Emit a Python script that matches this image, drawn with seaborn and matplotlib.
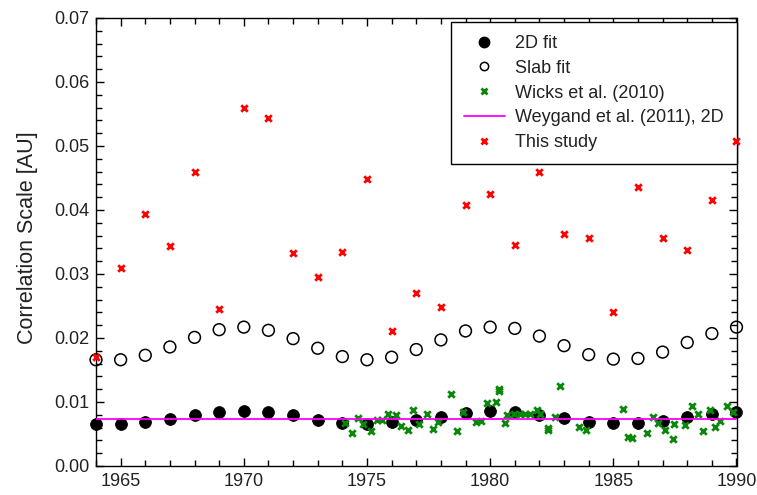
import numpy as np
import pandas as pd
import matplotlib
matplotlib.use("Agg")
import matplotlib.pyplot as plt
from matplotlib.lines import Line2D
from matplotlib.ticker import MultipleLocator, FormatStrFormatter
import seaborn as sns

# Yearly model fits
years = list(range(1964, 1991))
fit_2d = [0.0065, 0.0065, 0.0068, 0.0073, 0.0079, 0.0084, 0.0086, 0.0084, 0.0079,
          0.0072, 0.0067, 0.0065, 0.0068, 0.0072, 0.0077, 0.0083, 0.0086, 0.0084,
          0.0080, 0.0075, 0.0069, 0.0067, 0.0067, 0.0070, 0.0076, 0.0081, 0.0085]
fit_slab = [0.0166, 0.0166, 0.0173, 0.0186, 0.0201, 0.0213, 0.0217, 0.0212, 0.0199,
            0.0184, 0.0171, 0.0166, 0.0170, 0.0182, 0.0197, 0.0211, 0.0217, 0.0215,
            0.0203, 0.0188, 0.0174, 0.0167, 0.0168, 0.0178, 0.0193, 0.0207, 0.0217]
this_study = [0.0170, 0.0309, 0.0393, 0.0343, 0.0459, 0.0246, 0.0560, 0.0543, 0.0333,
              0.0296, 0.0334, 0.0449, 0.0211, 0.0271, 0.0248, 0.0408, 0.0425, 0.0345,
              0.0459, 0.0362, 0.0357, 0.0241, 0.0436, 0.0357, 0.0337, 0.0415, 0.0508]

# Wicks et al. (2010) estimates
wicks_time = [1974.11, 1974.38, 1974.63, 1974.85, 1975.17, 1975.40, 1975.60, 1975.87,
              1976.17, 1976.38, 1976.66, 1976.88, 1977.13, 1977.43, 1977.67, 1977.87,
              1978.40, 1978.64, 1978.89, 1979.42, 1979.62, 1979.86, 1980.23, 1980.36,
              1980.36, 1980.61, 1980.67, 1980.98, 1981.21, 1981.42, 1981.62, 1981.89,
              1982.03, 1982.36, 1982.36, 1982.64, 1982.84, 1983.62, 1983.89, 1985.41,
              1985.59, 1985.75, 1986.38, 1986.60, 1986.83, 1987.10, 1987.47, 1987.44,
              1987.91, 1988.19, 1988.43, 1988.66, 1988.93, 1989.14, 1989.31, 1989.61,
              1989.85]
wicks_scale = [0.0067, 0.0051, 0.0075, 0.0065, 0.0054, 0.0072, 0.0072, 0.0082,
               0.0080, 0.0063, 0.0056, 0.0088, 0.0066, 0.0081, 0.0058, 0.0068,
               0.0113, 0.0055, 0.0085, 0.0068, 0.0071, 0.0098, 0.0100, 0.0120,
               0.0117, 0.0067, 0.0080, 0.0082, 0.0082, 0.0082, 0.0082, 0.0088,
               0.0081, 0.0059, 0.0057, 0.0077, 0.0125, 0.0061, 0.0056, 0.0089,
               0.0045, 0.0043, 0.0052, 0.0076, 0.0067, 0.0056, 0.0065, 0.0042,
               0.0064, 0.0094, 0.0082, 0.0055, 0.0088, 0.0061, 0.0070, 0.0094,
               0.0084]

# Weygand et al. (2011) 2D value, constant over the interval
weygand_span = [1964, 1990]
weygand_2d = 0.0074

labels = ["2D fit", "Slab fit", "Wicks et al. (2010)",
          "Weygand et al. (2011), 2D", "This study"]

sns.set_style("ticks")
plt.rcParams["font.family"] = ["Liberation Sans", "DejaVu Sans"]
plt.rcParams["font.size"] = 13

fig = plt.figure(figsize=(7.57, 4.95), dpi=100)
ax = fig.add_axes([96 / 757, 1 - 466 / 495, (736.5 - 96) / 757, (466 - 18) / 495])

fits = pd.DataFrame({"year": years, "fit_2d": fit_2d, "fit_slab": fit_slab,
                     "this_study": this_study})
wicks = pd.DataFrame({"time": wicks_time, "scale": wicks_scale})
weygand = pd.DataFrame({"year": weygand_span, "scale": [weygand_2d] * 2})

sns.scatterplot(data=fits, x="year", y="fit_2d", ax=ax, color="black", marker="o",
                s=72, edgecolor="black", linewidth=0.6, zorder=3, clip_on=False)
sns.scatterplot(data=fits, x="year", y="fit_slab", ax=ax, marker="o", s=72,
                facecolor="none", edgecolor="black", linewidth=1.1, zorder=3,
                clip_on=False)
sns.scatterplot(data=wicks, x="time", y="scale", ax=ax, color="#078807", marker="x",
                s=22, linewidth=2.0, zorder=4)
sns.lineplot(data=weygand, x="year", y="scale", ax=ax, color="#ff00ff", linewidth=1.3,
             zorder=5)
sns.scatterplot(data=fits, x="year", y="this_study", ax=ax, color="#ff0000", marker="x",
                s=22, linewidth=2.0, zorder=6, clip_on=False)

ax.set_xlim(1964, 1990)
ax.set_ylim(0, 0.07)
ax.xaxis.set_major_locator(MultipleLocator(5))
ax.xaxis.set_minor_locator(MultipleLocator(1))
ax.yaxis.set_major_locator(MultipleLocator(0.01))
ax.yaxis.set_minor_locator(MultipleLocator(0.002))
ax.yaxis.set_major_formatter(FormatStrFormatter("%.2f"))
ax.tick_params(which="both", direction="in", top=True, right=True, color="black",
               labelsize=13, labelcolor="#222222", pad=5)
ax.tick_params(which="major", length=6, width=1)
ax.tick_params(which="minor", length=4, width=1)
for sp in ax.spines.values():
    sp.set_visible(True)
    sp.set_linewidth(1.0)
    sp.set_color("black")
ax.set_xlabel("")
ax.set_ylabel("Correlation Scale [AU]", fontsize=15.5, color="#222222")
ax.yaxis.set_label_coords(-0.09, 0.509)

handles = [
    Line2D([], [], linestyle="none", marker="o", markersize=7.5, markerfacecolor="black",
           markeredgecolor="black"),
    Line2D([], [], linestyle="none", marker="o", markersize=6, markerfacecolor="none",
           markeredgecolor="black", markeredgewidth=1.1),
    Line2D([], [], linestyle="none", marker="x", markersize=4, color="#078807",
           markeredgewidth=2),
    Line2D([], [], color="#ff00ff", linewidth=1.3),
    Line2D([], [], linestyle="none", marker="x", markersize=4, color="#ff0000",
           markeredgewidth=2),
]
leg = ax.legend(handles, labels, loc="upper right", bbox_to_anchor=(1.0, 1 - 4 / 448),
                borderaxespad=0, frameon=True, fancybox=False, framealpha=1,
                edgecolor="black", fontsize=13, handlelength=2.27, handletextpad=0.55,
                borderpad=0.72, labelspacing=0.43)
leg.get_frame().set_linewidth(1.0)
for t in leg.get_texts():
    t.set_color("#222222")

fig.savefig("out.png", dpi=100)
